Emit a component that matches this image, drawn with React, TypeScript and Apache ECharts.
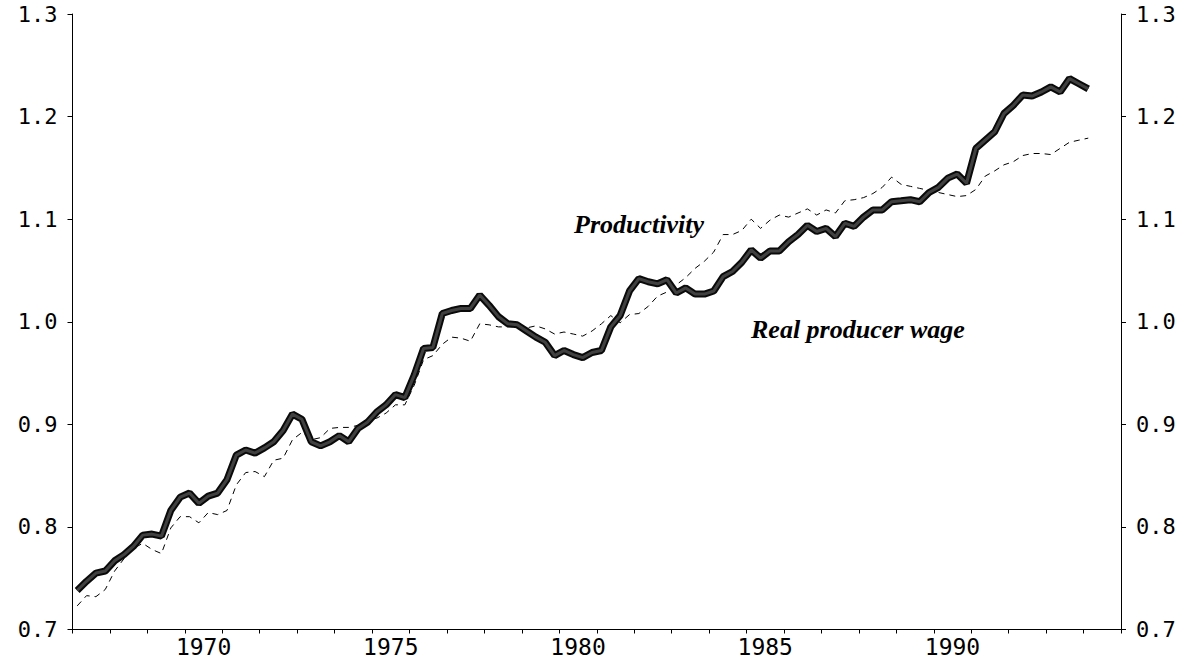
import React, { useEffect, useRef } from "react";
import * as echarts from "echarts";

// Quarterly data, 1967Q1 .. 1994Q1
const startYear = 1967;
const wage: number[] = [
  0.738, 0.747, 0.755, 0.757, 0.767, 0.773, 0.781, 0.792, 0.793, 0.791,
  0.816, 0.829, 0.833, 0.823, 0.830, 0.833, 0.846, 0.870, 0.875, 0.872,
  0.877, 0.883, 0.894, 0.910, 0.905, 0.883, 0.879, 0.883, 0.889, 0.883,
  0.896, 0.902, 0.912, 0.919, 0.929, 0.926, 0.948, 0.974, 0.975, 1.008,
  1.011, 1.013, 1.013, 1.026, 1.016, 1.005, 0.998, 0.997, 0.991, 0.985,
  0.980, 0.967, 0.972, 0.968, 0.965, 0.970, 0.972, 0.995, 1.006, 1.030,
  1.042, 1.039, 1.037, 1.041, 1.028, 1.033, 1.027, 1.027, 1.030, 1.044,
  1.049, 1.058, 1.070, 1.062, 1.069, 1.069, 1.078, 1.085, 1.094, 1.088,
  1.091, 1.083, 1.096, 1.093, 1.102, 1.109, 1.109, 1.117, 1.118, 1.119,
  1.117, 1.126, 1.131, 1.140, 1.144, 1.135, 1.169, 1.177, 1.185, 1.203,
  1.211, 1.221, 1.220, 1.224, 1.229, 1.224, 1.237, 1.232, 1.227,
];
const productivity: number[] = [
  0.723, 0.733, 0.732, 0.739, 0.757, 0.769, 0.779, 0.784, 0.778, 0.774,
  0.799, 0.810, 0.810, 0.804, 0.814, 0.812, 0.816, 0.841, 0.853, 0.854,
  0.849, 0.865, 0.867, 0.885, 0.892, 0.885, 0.887, 0.896, 0.897, 0.897,
  0.899, 0.904, 0.906, 0.911, 0.919, 0.919, 0.938, 0.963, 0.967, 0.978,
  0.985, 0.984, 0.981, 0.998, 0.997, 0.995, 0.995, 0.995, 0.994, 0.996,
  0.993, 0.988, 0.990, 0.988, 0.986, 0.991, 0.998, 1.006, 0.999, 1.007,
  1.008, 1.015, 1.025, 1.029, 1.036, 1.043, 1.052, 1.059, 1.068, 1.085,
  1.085, 1.089, 1.100, 1.091, 1.099, 1.104, 1.102, 1.106, 1.110, 1.104,
  1.109, 1.106, 1.118, 1.119, 1.121, 1.125, 1.131, 1.141, 1.134, 1.132,
  1.130, 1.128, 1.126, 1.124, 1.122, 1.123, 1.129, 1.142, 1.147, 1.153,
  1.156, 1.162, 1.164, 1.164, 1.163, 1.169, 1.175, 1.177, 1.179,
];
const xLabelYears = [1970, 1975, 1980, 1985, 1990];
const yTicks = { min: 0.7, max: 1.3, step: 0.1 };
const xRange = { min: 1967, max: 1995 };

const toPairs = (vals: number[]) =>
  vals.map((v, i) => [startYear + 0.125 + 0.25 * i, v]);

const tickFont = '"DejaVu Sans Mono", monospace';

export default function App() {
  const ref = useRef<HTMLDivElement>(null);
  useEffect(() => {
    if (!ref.current) return;
    const chart = echarts.init(ref.current, undefined, { renderer: "svg" });
    const yAxisCommon = {
      type: "value" as const,
      min: yTicks.min,
      max: yTicks.max,
      interval: yTicks.step,
      splitLine: { show: false },
      axisLine: { show: true, lineStyle: { color: "#000", width: 1 } },
      axisTick: { show: true, length: 5, lineStyle: { color: "#000" } },
      axisLabel: {
        margin: 15,
        color: "#000",
        fontSize: 22,
        fontFamily: tickFont,
        formatter: (v: number) => v.toFixed(1),
      },
    };
    chart.setOption({
      animation: false,
      backgroundColor: "#fff",
      grid: { left: 72.5, right: 78, top: 14, bottom: 29.5, containLabel: false },
      xAxis: [
        {
          type: "value",
          min: xRange.min,
          max: xRange.max,
          interval: 1,
          position: "bottom",
          splitLine: { show: false },
          axisLine: { show: true, onZero: false, lineStyle: { color: "#000", width: 1 } },
          axisTick: { show: true, length: 4, lineStyle: { color: "#000" } },
          axisLabel: { show: false },
        },
        {
          type: "value",
          min: xRange.min,
          max: xRange.max,
          interval: 0.5,
          position: "bottom",
          splitLine: { show: false },
          axisLine: { show: false, onZero: false },
          axisTick: { show: false },
          axisLabel: {
            show: true,
            margin: 6,
            color: "#000",
            fontSize: 23,
            fontFamily: tickFont,
            formatter: (v: number) => {
              const y = Math.round((v - 0.5) * 100) / 100;
              return xLabelYears.indexOf(y) >= 0 ? String(y) : "";
            },
          },
        },
      ],
      yAxis: [
        { ...yAxisCommon, position: "left" },
        { ...yAxisCommon, position: "right" },
      ],
      series: [
        {
          name: "Productivity",
          type: "line",
          xAxisIndex: 0,
          yAxisIndex: 0,
          data: toPairs(productivity),
          symbol: "none",
          lineStyle: { color: "#000", width: 1, type: [6, 5] },
          z: 2,
        },
        {
          name: "Real producer wage",
          type: "line",
          xAxisIndex: 0,
          yAxisIndex: 0,
          data: toPairs(wage),
          symbol: "none",
          lineStyle: { color: "#0a0a0a", width: 7 },
          z: 3,
        },
        {
          name: "Real producer wage (inner)",
          type: "line",
          xAxisIndex: 0,
          yAxisIndex: 0,
          data: toPairs(wage),
          symbol: "none",
          lineStyle: { color: "#404040", width: 3 },
          z: 4,
          silent: true,
        },
      ],
      graphic: [
        {
          type: "text",
          left: 574,
          top: 211,
          style: {
            text: "Productivity",
            font: 'italic bold 26px "Liberation Serif", serif',
            fill: "#000",
          },
        },
        {
          type: "text",
          left: 751,
          top: 316,
          style: {
            text: "Real producer wage",
            font: 'italic bold 26px "Liberation Serif", serif',
            fill: "#000",
          },
        },
      ],
    });
    return () => chart.dispose();
  }, []);
  return (
    <div
      ref={ref}
      style={{ position: "fixed", left: 0, top: 0, width: 1199, height: 659 }}
    />
  );
}
